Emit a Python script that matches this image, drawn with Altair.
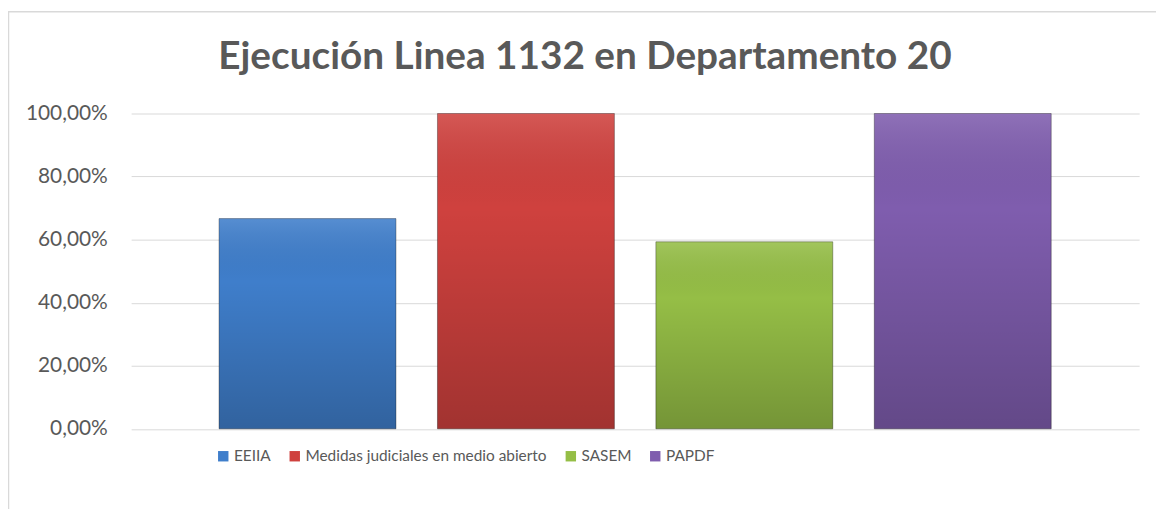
import altair as alt
import pandas as pd

categories = ["EEIIA", "Medidas judiciales en medio abierto", "SASEM", "PAPDF"]
values = [0.6667, 1.0, 0.593, 1.0]
colors = ["#3F7ECB", "#CF413E", "#95BE46", "#7F5DAE"]
title_text = "Ejecución Linea 1132 en Departamento 20"
y_ticks = [0, 0.2, 0.4, 0.6, 0.8, 1.0]

df = pd.DataFrame({"cat": categories, "val": values})

FONT = "Lato"
GRAY = "#595959"

xenc = alt.X("cat:N", sort=categories,
             scale=alt.Scale(paddingInner=0.19, paddingOuter=0.4025),
             axis=None)
yenc = alt.Y("val:Q", scale=alt.Scale(domain=[0, 1], nice=False),
             axis=alt.Axis(values=y_ticks, title=None, domain=False, ticks=False,
                           labelExpr="replace(format(datum.value, '.2%'), '.', ',')",
                           labelFont=FONT, labelFontSize=21, labelColor=GRAY,
                           labelPadding=24, gridColor="#D9D9D9", gridWidth=1))

bars = alt.Chart(df).mark_bar(stroke="#00000055", strokeWidth=1).encode(
    x=xenc, y=yenc,
    color=alt.Color("cat:N", sort=categories,
                    scale=alt.Scale(domain=categories, range=colors),
                    legend=alt.Legend(title=None, orient="none", direction="horizontal",
                                      legendX=85, legendY=337, symbolType="square",
                                      symbolSize=110, symbolStrokeWidth=0,
                                      labelFont=FONT, labelFontSize=15.5, labelColor=GRAY,
                                      columnPadding=16, labelOffset=3, labelLimit=400))
)

shade = alt.Chart(df).mark_bar(
    fill=alt.Gradient(gradient="linear", x1=0, y1=0, x2=0, y2=1,
                      stops=[alt.GradientStop(color="rgba(255,255,255,0.12)", offset=0),
                             alt.GradientStop(color="rgba(0,0,0,0.0)", offset=0.3),
                             alt.GradientStop(color="rgba(0,0,0,0.22)", offset=1)])
).encode(x=xenc, y="val:Q")

title = alt.Chart(pd.DataFrame({"t": [title_text]})).mark_text(
    font=FONT, fontSize=39, fontWeight="bold", color=GRAY, align="center", baseline="alphabetic"
).encode(x=alt.value(457), y=alt.value(-44.5), text="t:N")

border = alt.Chart(pd.DataFrame({"t": [0]})).mark_rect(
    fill=None, stroke="#D9D9D9", strokeWidth=1.5
).encode(x=alt.value(-123.5), x2=alt.value(1045), y=alt.value(-102.5), y2=alt.value(420))

chart = alt.layer(border, bars, shade, title).properties(
    width=1015, height=317.5,
    autosize=alt.AutoSizeParams(type="none"),
    padding={"left": 124, "top": 104.5, "right": 17, "bottom": 79},
).configure(background="white").configure_view(stroke=None)

chart.save("out.html", embed_options={"renderer": "svg", "actions": False})
